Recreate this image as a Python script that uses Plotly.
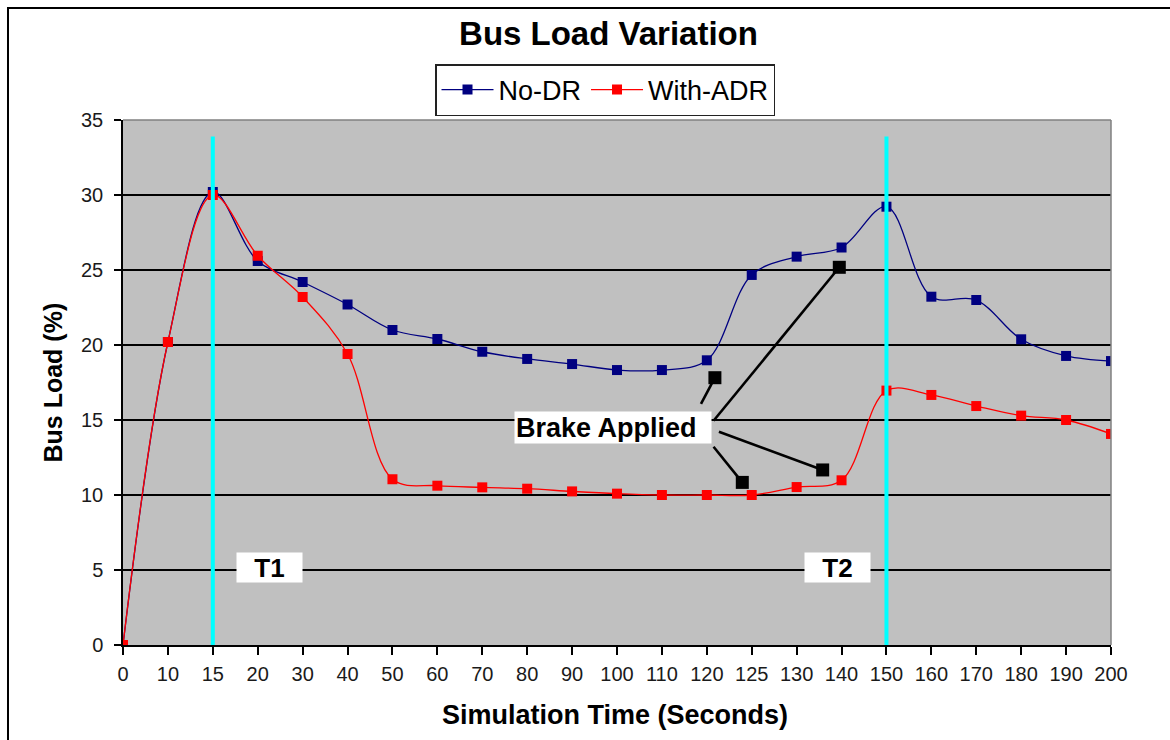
import plotly.graph_objects as go

# ---- data ----
times = [0, 10, 15, 20, 30, 40, 50, 60, 70, 80, 90, 100, 110, 120, 125, 130, 140, 150, 160, 170, 180, 190, 200]
no_dr = [0, 20.2, 30.2, 25.6, 24.2, 22.7, 21.0, 20.4, 19.55, 19.07, 18.73, 18.33, 18.33, 18.98, 24.67, 25.89, 26.5, 29.22, 23.22, 23.0, 20.38, 19.27, 18.93]
with_adr = [0, 20.2, 30.0, 25.95, 23.2, 19.4, 11.05, 10.62, 10.51, 10.42, 10.24, 10.09, 10.0, 10.0, 10.0, 10.53, 10.98, 16.96, 16.67, 15.93, 15.29, 15.0, 14.07]

marker_times = [15, 150]
marker_labels = ["T1", "T2"]
marker_label_x = [3.26, 15.9]   # label box centres (category-index units)
marker_label_y = 5.17
marker_line_top = 33.9

# "Brake Applied" callout: pointer squares and pointer line starts (category-index units, load %)
brake_sq_x = [13.18, 15.95, 15.58, 13.79]
brake_sq_y = [17.82, 25.18, 11.67, 10.84]
brake_from_x = [12.87, 13.15, 13.27, 13.15]
brake_from_y = [16.07, 14.95, 14.22, 13.22]

xpos = list(range(len(times)))
FONT = "Liberation Sans, Arial, sans-serif"

fig = go.Figure()
fig.add_trace(go.Scatter(
    x=xpos, y=no_dr, name="No-DR", mode="lines+markers",
    line=dict(color="#000080", width=1.3, shape="spline", smoothing=1.0),
    marker=dict(symbol="square", size=10, color="#000080"),
))
fig.add_trace(go.Scatter(
    x=xpos, y=with_adr, name="With-ADR", mode="lines+markers",
    line=dict(color="#FF0000", width=1.3, shape="spline", smoothing=1.0),
    marker=dict(symbol="square", size=10, color="#FF0000"),
))

# callout pointer lines
lx, ly = [], []
for x0, y0, x1, y1 in zip(brake_from_x, brake_from_y, brake_sq_x, brake_sq_y):
    lx += [x0, x1, None]
    ly += [y0, y1, None]
fig.add_trace(go.Scatter(x=lx, y=ly, mode="lines", line=dict(color="black", width=2.6),
                         showlegend=False, hoverinfo="skip"))
fig.add_trace(go.Scatter(x=brake_sq_x, y=brake_sq_y, mode="markers",
                         marker=dict(symbol="square", size=13, color="black"),
                         showlegend=False, hoverinfo="skip"))

shapes = []
# cyan time markers
for t in marker_times:
    xi = times.index(t)
    shapes.append(dict(type="line", xref="x", yref="y", x0=xi, x1=xi, y0=0, y1=marker_line_top,
                       line=dict(color="#00FFFF", width=4), layer="above"))
# gray plot border top/right
shapes.append(dict(type="line", xref="paper", yref="paper", x0=0, x1=1, y0=1, y1=1,
                   line=dict(color="#808080", width=1.5), layer="above"))
shapes.append(dict(type="line", xref="paper", yref="paper", x0=1, x1=1, y0=0, y1=1,
                   line=dict(color="#808080", width=1.5), layer="above"))
# outer chart border (runs off right/bottom)
shapes.append(dict(type="rect", xref="paper", yref="paper", x0=-0.1164, x1=1.08, y0=-0.2, y1=1.2133,
                   line=dict(color="black", width=2), fillcolor="rgba(0,0,0,0)", layer="below"))

annotations = []
for lx_, lab in zip(marker_label_x, marker_labels):
    annotations.append(dict(x=lx_, y=marker_label_y, xref="x", yref="y", text="<b>%s</b>" % lab,
                            xanchor="center", yanchor="middle",
                            showarrow=False, bgcolor="white", width=63, height=27, borderpad=1,
                            font=dict(family=FONT, size=26, color="black")))
annotations.append(dict(x=10.92, y=14.53, xref="x", yref="y", text="<b>Brake Applied</b>",
                        xanchor="center", yanchor="middle",
                        showarrow=False, bgcolor="white", width=194, height=29, borderpad=1,
                        align="left", font=dict(family=FONT, size=27, color="black")))
# axis titles
annotations.append(dict(x=(615 - 123) / 988, y=(645 - 715) / 525, xref="paper", yref="paper",
                        xanchor="center", yanchor="middle",
                        text="<b>Simulation Time (Seconds)</b>", showarrow=False,
                        font=dict(family=FONT, size=27, color="black")))
annotations.append(dict(x=(52 - 123) / 988, y=0.5, xref="paper", yref="paper",
                        xanchor="center", yanchor="middle",
                        text="<b>Bus Load (%)</b>", showarrow=False, textangle=-90,
                        font=dict(family=FONT, size=25, color="black")))

fig.update_layout(
    width=1170, height=740,
    margin=dict(l=123, r=59, t=120, b=95),
    paper_bgcolor="white", plot_bgcolor="#C0C0C0",
    title=dict(text="<b>Bus Load Variation</b>", x=608.5 / 1170, xanchor="center",
               y=1 - 33 / 740, yanchor="middle", font=dict(family=FONT, size=33, color="black")),
    legend=dict(orientation="h", x=(605 - 123) / 988, xanchor="center", y=(645 - 64) / 525, yanchor="top",
                bordercolor="#222", borderwidth=1.5, bgcolor="white",
                font=dict(family=FONT, size=27, color="black"), itemwidth=52),
    shapes=shapes, annotations=annotations,
    showlegend=True,
)
fig.update_xaxes(range=[0, 22], tickmode="array", tickvals=xpos, ticktext=[str(t) for t in times],
                 showgrid=False, zeroline=False, showline=True, linecolor="black", linewidth=1.5,
                 ticks="outside", ticklen=8, tickwidth=1.5, tickcolor="black", ticklabelstandoff=2,
                 tickfont=dict(family=FONT, size=20, color="#1a1a1a"))
fig.update_yaxes(range=[0, 35], dtick=5, tick0=0, showgrid=True, gridcolor="black", gridwidth=1.5,
                 zeroline=False, showline=True, linecolor="black", linewidth=1.5,
                 ticks="outside", ticklen=7, tickwidth=1.5, tickcolor="black", ticklabelstandoff=7,
                 tickfont=dict(family=FONT, size=20, color="#1a1a1a"))

fig.write_html("out.html")
